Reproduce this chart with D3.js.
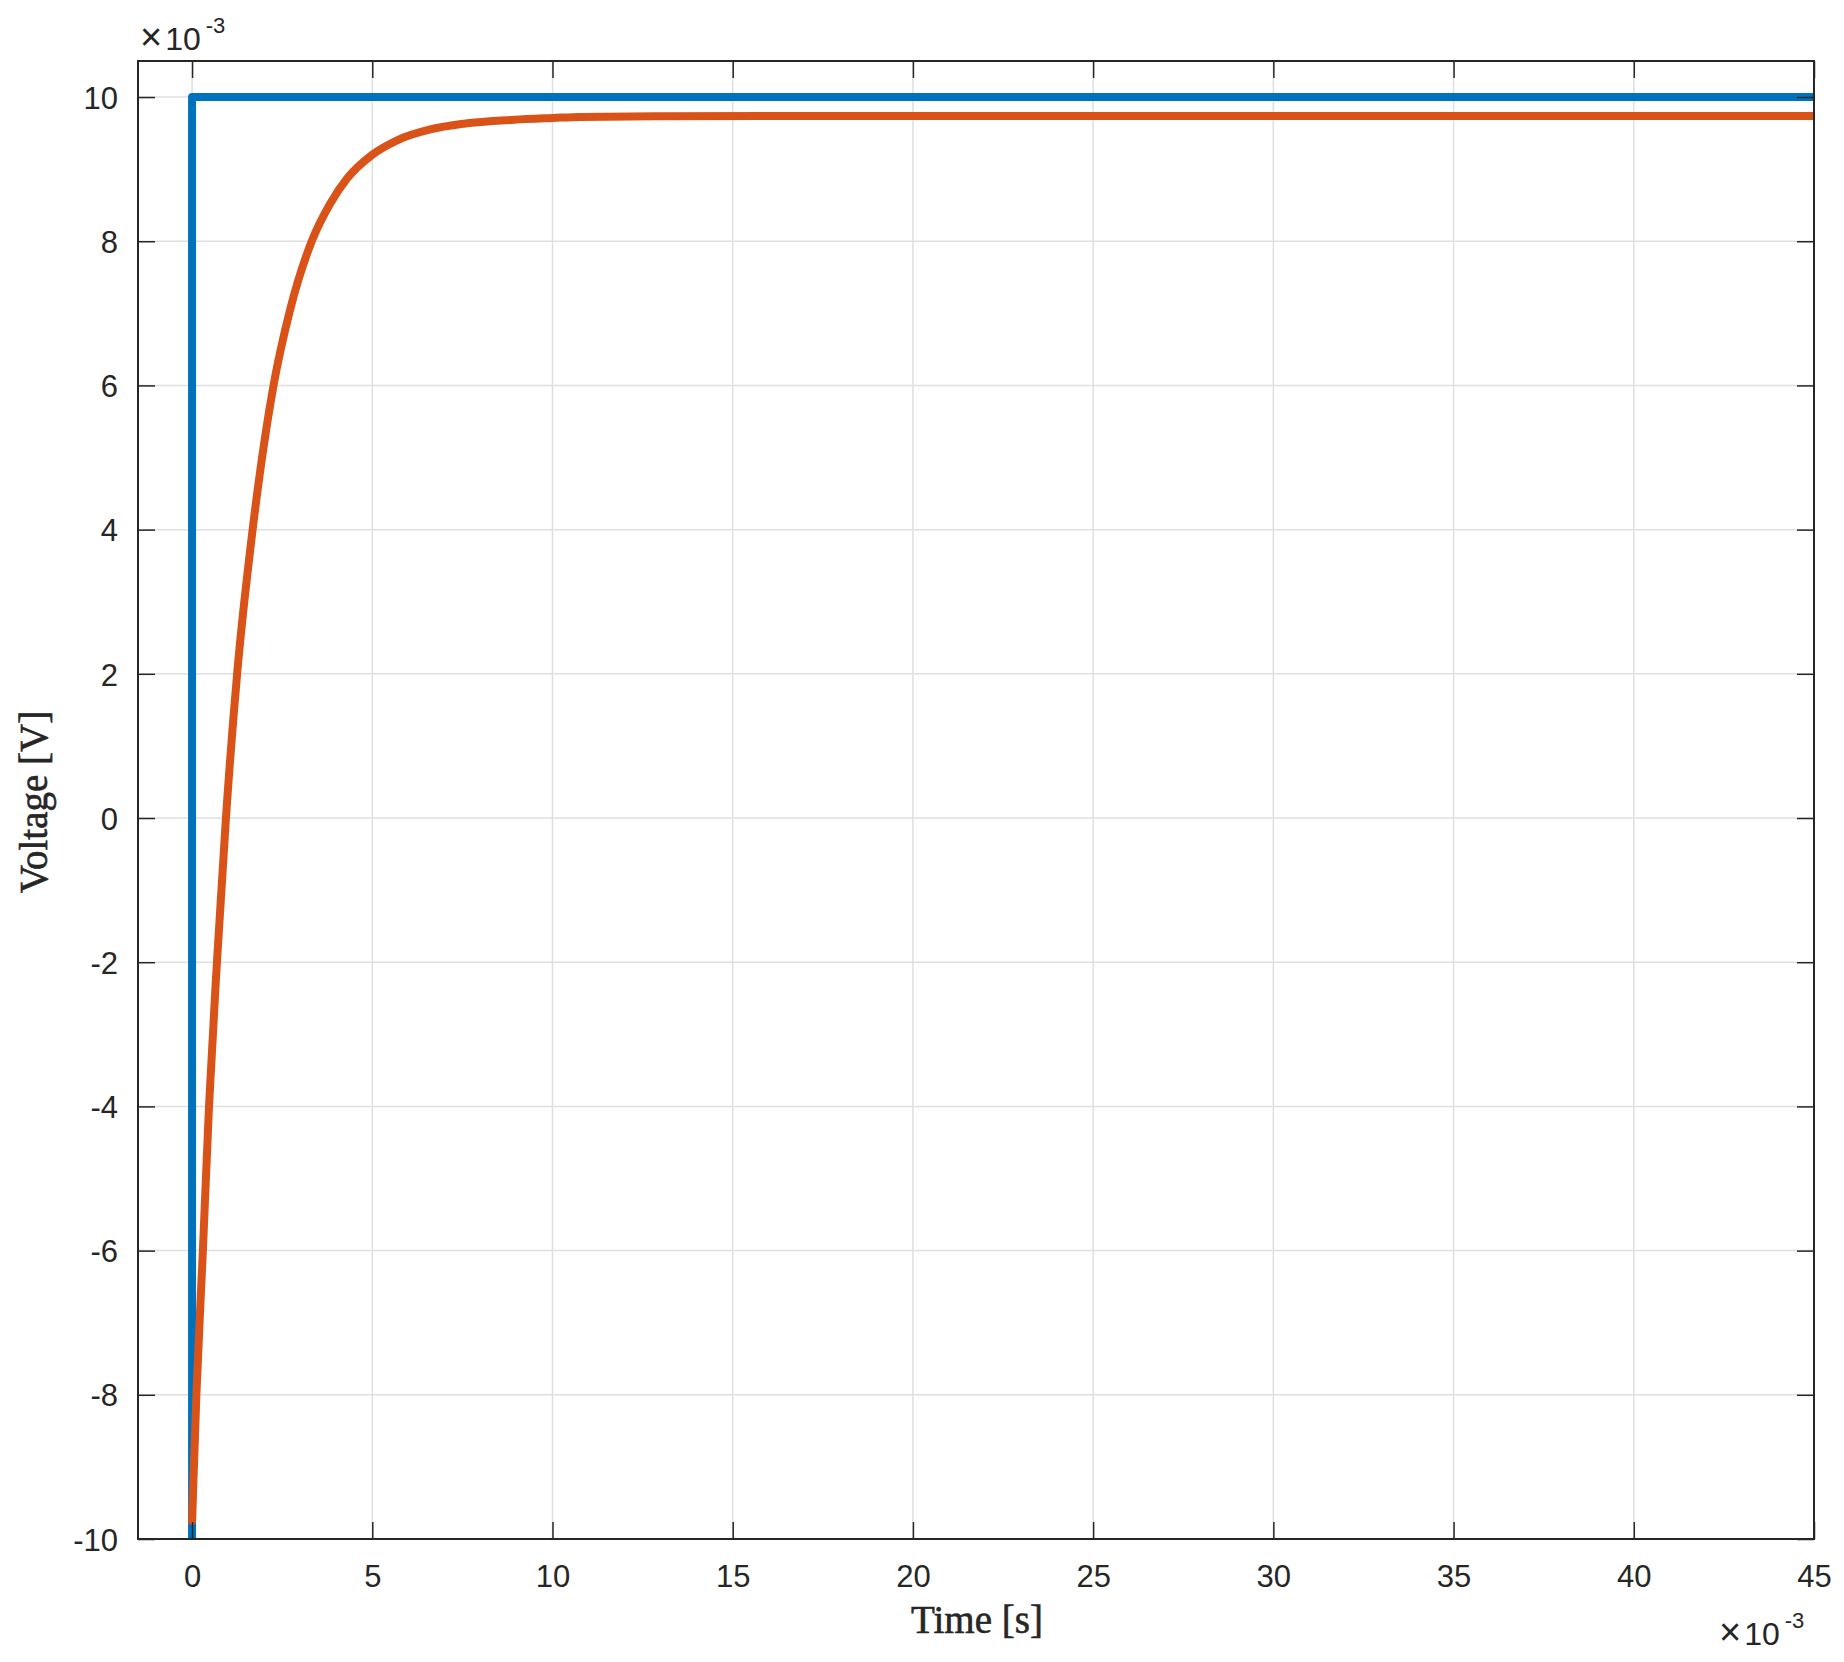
<!DOCTYPE html>
<html>
<head>
<meta charset="utf-8">
<script src="https://cdn.jsdelivr.net/npm/d3@7"></script>
<style>
  html, body { margin: 0; padding: 0; background: #ffffff; }
  svg { display: block; }
</style>
</head>
<body>
<svg id="chart" width="1844" height="1662"></svg>
<script>
// ---- data (time in ms, i.e. ×10^-3 s; voltage in mV, i.e. ×10^-3 V) ----
const inputTime = [0, 0, 45];
const inputVolt = [-10, 10, 10];

const outputTime = [0, 0.12, 0.30, 0.47, 0.69, 0.94, 1.25, 1.68, 2.26, 2.72, 3.32, 3.83, 4.30, 5.00, 5.69, 6.61, 7.54, 8.93, 10.02, 10.78, 13, 16, 20, 30, 45];
const outputVolt = [-9.75, -8, -6, -4, -2, 0, 2, 4, 6, 7.05, 8, 8.52, 8.87, 9.2, 9.40, 9.55, 9.63, 9.685, 9.71, 9.725, 9.733, 9.736, 9.737, 9.737, 9.737];

const xTicks = [0, 5, 10, 15, 20, 25, 30, 35, 40, 45];
const yTicks = [-10, -8, -6, -4, -2, 0, 2, 4, 6, 8, 10];
const xDomain = [-1.5, 45];
const yDomain = [-10, 10.5];

// ---- layout ----
const padL = 138, padR = 1814, padT = 61, padB = 1539;
const axisColor = "#262626";
const gridColor = "#dfdfdf";
const sansFont = "'Liberation Sans', Arial, Helvetica, sans-serif";
const serifFont = "'Liberation Serif', 'Times New Roman', serif";

const svg = d3.select("#chart");
const x = d3.scaleLinear().domain(xDomain).range([padL, padR]);
const y = d3.scaleLinear().domain(yDomain).range([padB, padT]);

// grid
const grid = svg.append("g");
grid.selectAll("line.gx").data(xTicks).join("line")
  .attr("x1", d => x(d)).attr("x2", d => x(d))
  .attr("y1", padT).attr("y2", padB)
  .attr("stroke", gridColor).attr("stroke-width", 1.5);
grid.selectAll("line.gy").data(yTicks).join("line")
  .attr("x1", padL).attr("x2", padR)
  .attr("y1", d => y(d)).attr("y2", d => y(d))
  .attr("stroke", gridColor).attr("stroke-width", 1.5);

// clip
svg.append("clipPath").attr("id", "plotclip")
  .append("rect").attr("x", padL).attr("y", padT)
  .attr("width", padR - padL).attr("height", padB - padT);

const plot = svg.append("g").attr("clip-path", "url(#plotclip)");

const inputData = inputTime.map((t, i) => [t, inputVolt[i]]);
const outputData = outputTime.map((t, i) => [t, outputVolt[i]]);

plot.append("path").datum(inputData)
  .attr("d", d3.line().x(d => x(d[0])).y(d => y(d[1])))
  .attr("fill", "none").attr("stroke", "#0072BD").attr("stroke-width", 8)
  .attr("stroke-linejoin", "round");

plot.append("path").datum(outputData)
  .attr("d", d3.line().curve(d3.curveMonotoneX).x(d => x(d[0])).y(d => y(d[1])))
  .attr("fill", "none").attr("stroke", "#D95319").attr("stroke-width", 8)
  .attr("stroke-linejoin", "round").attr("stroke-linecap", "round");

// axes via d3 axis generators (inner ticks, no labels for top/right)
const tickLen = 17;
const xAxisB = d3.axisBottom(x).tickValues(xTicks).tickSizeInner(-tickLen).tickSizeOuter(0);
const xAxisT = d3.axisTop(x).tickValues(xTicks).tickSizeInner(-tickLen).tickSizeOuter(0).tickFormat("");
const yAxisL = d3.axisLeft(y).tickValues(yTicks).tickSizeInner(-tickLen).tickSizeOuter(0);
const yAxisR = d3.axisRight(y).tickValues(yTicks).tickSizeInner(-tickLen).tickSizeOuter(0).tickFormat("");

function styleAxis(g) {
  g.select(".domain").remove();
  g.selectAll(".tick line").attr("stroke", axisColor).attr("stroke-width", 1.5);
  g.selectAll(".tick text").attr("fill", axisColor)
    .style("font-family", sansFont).style("font-size", "31px");
}

svg.append("g").attr("transform", `translate(0,${padB})`).call(xAxisB).call(styleAxis)
  .selectAll(".tick text").attr("y", 48).attr("dy", "0");
svg.append("g").attr("transform", `translate(0,${padT})`).call(xAxisT).call(styleAxis);
svg.append("g").attr("transform", `translate(${padL},0)`).call(yAxisL).call(styleAxis)
  .selectAll(".tick text").attr("x", -(padL - 118)).attr("dy", "0.36em")
  .text(d => d < 0 ? "-" + Math.abs(d) : String(d));
svg.append("g").attr("transform", `translate(${padR},0)`).call(yAxisR).call(styleAxis);

// box
svg.append("rect").attr("x", padL).attr("y", padT)
  .attr("width", padR - padL).attr("height", padB - padT)
  .attr("fill", "none").attr("stroke", axisColor).attr("stroke-width", 2);

// exponent labels
function expLabel(xPos, yBase) {
  const t = svg.append("text").attr("x", xPos).attr("y", yBase)
    .attr("fill", axisColor).style("font-family", sansFont).style("font-size", "32px");
  t.append("tspan").style("font-size", "38px").text("×");
  t.append("tspan").attr("dx", 3).text("10");
  t.append("tspan").attr("dx", 5).attr("dy", -17).style("font-size", "22px").text("-3");
}
expLabel(140, 50);
expLabel(1719, 1645);

// axis titles
svg.append("text").attr("x", (padL + padR) / 2 + 1).attr("y", 1633)
  .attr("text-anchor", "middle").attr("fill", axisColor)
  .attr("stroke", axisColor).attr("stroke-width", 0.6)
  .style("font-family", serifFont).style("font-size", "39px")
  .text("Time [s]");

svg.append("text").attr("transform", "translate(47,802) rotate(-90)")
  .attr("text-anchor", "middle").attr("fill", axisColor)
  .attr("stroke", axisColor).attr("stroke-width", 0.6)
  .style("font-family", serifFont).style("font-size", "39px")
  .text("Voltage [V]");
</script>
</body>
</html>
